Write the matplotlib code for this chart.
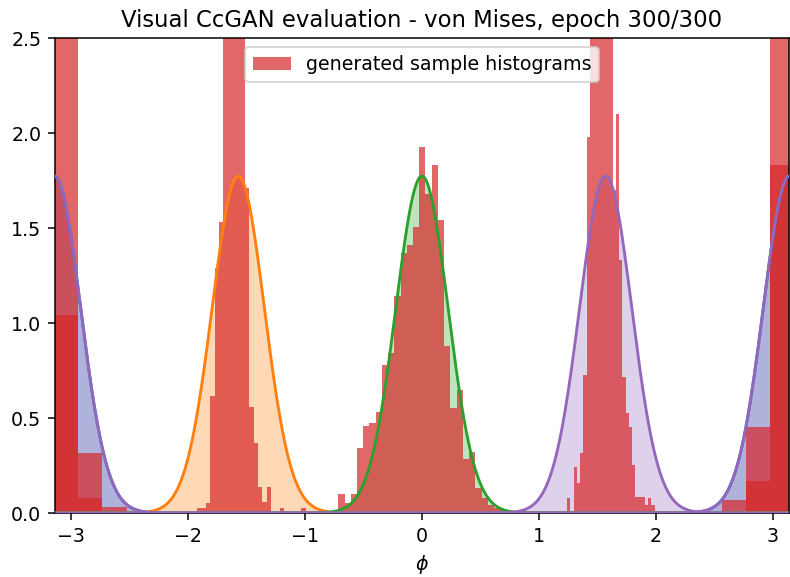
import numpy as np
import matplotlib
matplotlib.use('Agg')
import matplotlib.pyplot as plt

# true conditional densities (von Mises)
KAPPA = 20.0
cond_means = [-np.pi, -np.pi / 2, 0.0, np.pi / 2, np.pi]
cond_colors = ['C0', 'C1', 'C2', 'C4', 'C4']

# generated sample histograms (density)
neg_half_start = -1.958
neg_half_width = 0.0371
neg_half_heights = [0.0, 0.025, 0.025, 0.054, 0.616, 1.29, 1.53, 3.6, 4.4, 4.6, 4.4, 3.4,
                    1.71, 0.56, 0.367, 0.138, 0.06, 0.138, 0.0, 0.0, 0.025, 0.0, 0.0, 0.0,
                    0.0, 0.025]

center_start = -0.7154
center_width = 0.05325
center_heights = [0.098, 0.054, 0.098, 0.344, 0.46, 0.472, 0.53, 0.78, 0.84, 1.144, 1.367,
                  1.41, 1.504, 1.925, 1.677, 1.83, 1.544, 0.879, 0.551, 0.647, 0.284, 0.323,
                  0.13, 0.077, 0.042, 0.028, 0.016]

pos_half_start = 1.2419
pos_half_width = 0.02769
pos_half_heights = [0.077, 0.0, 0.244, 0.156, 0.314, 0.726, 1.98, 2.9, 3.4, 3.9, 4.2, 4.0,
                    3.6, 3.1, 1.70, 2.10, 1.33, 0.717, 0.525, 0.454, 0.25, 0.086, 0.086,
                    0.086, 0.04, 0.077, 0.04]

# wrapped conditions at +-pi: wide bins, split over both edges
edge_a_left_edges = [-np.pi, -2.940, -2.732, -2.519]
edge_a_left = [2.90, 0.314, 0.033]
edge_a_right_edges = [2.564, 2.769, 2.980, np.pi]
edge_a_right = [0.068, 0.170, 1.830]
edge_b_left_edges = [-np.pi, -2.940, -2.732]
edge_b_left = [1.042, 0.077]
edge_b_right_edges = [2.769, 2.980, np.pi]
edge_b_right = [0.451, 3.40]


def von_mises(x, mu, kappa):
    return np.exp(kappa * np.cos(x - mu)) / (2 * np.pi * np.i0(kappa))


def regular_edges(start, width, n):
    return start + width * np.arange(n + 1)


DPI = 136.5
fig = plt.figure(figsize=(790.4 / DPI, 577.4 / DPI), dpi=DPI)
ax = fig.add_axes([54.5 / 790, 1 - 513 / 577, (789 - 54.5) / 790, (513 - 38.3) / 577])

x = np.linspace(-np.pi, np.pi, 1000)
for mu, c in zip(cond_means, cond_colors):
    ax.fill_between(x, von_mises(x, mu, KAPPA), color=c, alpha=0.3, linewidth=0, zorder=1)

hists = [
    (edge_a_left, edge_a_left_edges),
    (edge_a_right, edge_a_right_edges),
    (neg_half_heights, regular_edges(neg_half_start, neg_half_width, len(neg_half_heights))),
    (center_heights, regular_edges(center_start, center_width, len(center_heights))),
    (pos_half_heights, regular_edges(pos_half_start, pos_half_width, len(pos_half_heights))),
    (edge_b_left, edge_b_left_edges),
    (edge_b_right, edge_b_right_edges),
]
for i, (h, e) in enumerate(hists):
    ax.stairs(h, e, fill=True, color='C3', alpha=0.7, zorder=2,
              label='generated sample histograms' if i == 0 else None)

for mu, c in zip(cond_means, cond_colors):
    ax.plot(x, von_mises(x, mu, KAPPA), color=c, zorder=3)

ax.set_xlim(-np.pi, np.pi)
ax.set_ylim(0, 2.5)
ax.set_xlabel('$\\phi$')
ax.set_title('Visual CcGAN evaluation - von Mises, epoch 300/300')
ax.legend(loc='upper center')

fig.savefig('out.png', dpi=DPI)
